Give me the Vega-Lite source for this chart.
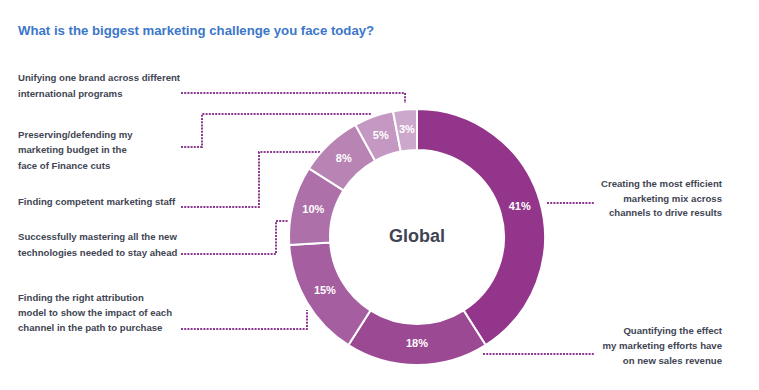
{
  "$schema": "https://vega.github.io/schema/vega-lite/v6.json",
  "width": 759,
  "height": 390,
  "padding": 0,
  "autosize": {"type": "none"},
  "background": "white",
  "config": {"view": {"stroke": null}, "text": {"font": "Liberation Sans"}},
  "datasets": {
    "slices": [
      {"category": "Creating the most efficient marketing mix across channels to drive results", "value": 41, "order": 1, "label": "41%"},
      {"category": "Quantifying the effect my marketing efforts have on new sales revenue", "value": 18, "order": 2, "label": "18%"},
      {"category": "Finding the right attribution model to show the impact of each channel in the path to purchase", "value": 15, "order": 3, "label": "15%"},
      {"category": "Successfully mastering all the new technologies needed to stay ahead", "value": 10, "order": 4, "label": "10%"},
      {"category": "Finding competent marketing staff", "value": 8, "order": 5, "label": "8%"},
      {"category": "Preserving/defending my marketing budget in the face of Finance cuts", "value": 5, "order": 6, "label": "5%"},
      {"category": "Unifying one brand across different international programs", "value": 3, "order": 7, "label": "3%"}
    ],
    "labels": [
      {"text": "Unifying one brand across different", "x": 18, "y": 78, "side": "left"},
      {"text": "international programs", "x": 18, "y": 94, "side": "left"},
      {"text": "Preserving/defending my", "x": 18, "y": 135, "side": "left"},
      {"text": "marketing budget in the", "x": 18, "y": 150, "side": "left"},
      {"text": "face of Finance cuts", "x": 18, "y": 166, "side": "left"},
      {"text": "Finding competent marketing staff", "x": 18, "y": 202, "side": "left"},
      {"text": "Successfully mastering all the new", "x": 18, "y": 237, "side": "left"},
      {"text": "technologies needed to stay ahead", "x": 18, "y": 253, "side": "left"},
      {"text": "Finding the right attribution", "x": 18, "y": 298, "side": "left"},
      {"text": "model to show the impact of each", "x": 18, "y": 313, "side": "left"},
      {"text": "channel in the path to purchase", "x": 18, "y": 328, "side": "left"},
      {"text": "Creating the most efficient", "x": 722, "y": 184, "side": "right"},
      {"text": "marketing mix across", "x": 722, "y": 199, "side": "right"},
      {"text": "channels to drive results", "x": 722, "y": 213, "side": "right"},
      {"text": "Quantifying the effect", "x": 722, "y": 331, "side": "right"},
      {"text": "my marketing efforts have", "x": 722, "y": 346, "side": "right"},
      {"text": "on new sales revenue", "x": 722, "y": 361, "side": "right"}
    ],
    "leaders": [
      {"id": 1, "seq": 1, "x": 181, "y": 93}, {"id": 1, "seq": 2, "x": 405, "y": 93}, {"id": 1, "seq": 3, "x": 405, "y": 103},
      {"id": 2, "seq": 1, "x": 181, "y": 147}, {"id": 2, "seq": 2, "x": 202, "y": 147}, {"id": 2, "seq": 3, "x": 202, "y": 114}, {"id": 2, "seq": 4, "x": 372, "y": 114},
      {"id": 3, "seq": 1, "x": 181, "y": 207}, {"id": 3, "seq": 2, "x": 259, "y": 207}, {"id": 3, "seq": 3, "x": 259, "y": 152}, {"id": 3, "seq": 4, "x": 320, "y": 152},
      {"id": 4, "seq": 1, "x": 181, "y": 254}, {"id": 4, "seq": 2, "x": 276, "y": 254}, {"id": 4, "seq": 3, "x": 276, "y": 221}, {"id": 4, "seq": 4, "x": 288, "y": 221},
      {"id": 5, "seq": 1, "x": 181, "y": 329}, {"id": 5, "seq": 2, "x": 307, "y": 329}, {"id": 5, "seq": 3, "x": 307, "y": 310},
      {"id": 6, "seq": 1, "x": 547, "y": 203}, {"id": 6, "seq": 2, "x": 595, "y": 203},
      {"id": 7, "seq": 1, "x": 483, "y": 354}, {"id": 7, "seq": 2, "x": 595, "y": 354}
    ]
  },
  "layer": [
    {
      "data": {"name": "leaders"},
      "mark": {"type": "line", "color": "#8B3A8E", "strokeWidth": 2, "strokeDash": [2, 1.2]},
      "encoding": {
        "x": {"field": "x", "type": "quantitative", "scale": {"domain": [0, 759], "nice": false, "zero": false}, "axis": null},
        "y": {"field": "y", "type": "quantitative", "scale": {"domain": [0, 390], "nice": false, "zero": false, "reverse": true}, "axis": null},
        "detail": {"field": "id", "type": "nominal"},
        "order": {"field": "seq", "type": "quantitative"}
      }
    },
    {
      "data": {"name": "slices"},
      "mark": {"type": "arc", "outerRadius": 128, "innerRadius": 87, "stroke": "white", "strokeWidth": 2},
      "encoding": {
        "theta": {"field": "value", "type": "quantitative", "stack": true},
        "order": {"field": "order", "type": "quantitative"},
        "color": {
          "field": "category", "type": "nominal", "legend": null,
          "scale": {
            "domain": [
              "Creating the most efficient marketing mix across channels to drive results",
              "Quantifying the effect my marketing efforts have on new sales revenue",
              "Finding the right attribution model to show the impact of each channel in the path to purchase",
              "Successfully mastering all the new technologies needed to stay ahead",
              "Finding competent marketing staff",
              "Preserving/defending my marketing budget in the face of Finance cuts",
              "Unifying one brand across different international programs"
            ],
            "range": ["#93358B", "#9B4993", "#A55E9F", "#AE70A9", "#B884B3", "#C498C2", "#CDA8CD"]
          }
        },
        "x": {"datum": 417, "type": "quantitative"},
        "y": {"datum": 237, "type": "quantitative"}
      }
    },
    {
      "data": {"name": "slices"},
      "mark": {"type": "text", "radius": 107, "color": "white", "fontWeight": "bold", "fontSize": 11, "align": "center", "baseline": "middle"},
      "encoding": {
        "theta": {"field": "value", "type": "quantitative", "stack": true},
        "order": {"field": "order", "type": "quantitative"},
        "text": {"field": "label", "type": "nominal"},
        "x": {"datum": 417, "type": "quantitative"},
        "y": {"datum": 237, "type": "quantitative"}
      }
    },
    {
      "data": {"values": [{"t": "Global"}]},
      "mark": {"type": "text", "color": "#3F4553", "fontWeight": "bold", "fontSize": 18, "align": "center", "baseline": "middle"},
      "encoding": {
        "text": {"field": "t", "type": "nominal"},
        "x": {"datum": 417, "type": "quantitative"},
        "y": {"datum": 237, "type": "quantitative"}
      }
    },
    {
      "data": {"values": [{"t": "What is the biggest marketing challenge you face today?"}]},
      "mark": {"type": "text", "color": "#3C77C9", "fontWeight": "bold", "fontSize": 13.2, "align": "left", "baseline": "middle"},
      "encoding": {
        "text": {"field": "t", "type": "nominal"},
        "x": {"datum": 18, "type": "quantitative"},
        "y": {"datum": 31, "type": "quantitative"}
      }
    },
    {
      "data": {"name": "labels"},
      "transform": [{"filter": "datum.side === 'left'"}],
      "mark": {"type": "text", "color": "#3F4553", "fontWeight": "bold", "fontSize": 9.6, "align": "left", "baseline": "middle"},
      "encoding": {
        "text": {"field": "text", "type": "nominal"},
        "x": {"field": "x", "type": "quantitative"},
        "y": {"field": "y", "type": "quantitative"}
      }
    },
    {
      "data": {"name": "labels"},
      "transform": [{"filter": "datum.side === 'right'"}],
      "mark": {"type": "text", "color": "#3F4553", "fontWeight": "bold", "fontSize": 9.6, "align": "right", "baseline": "middle"},
      "encoding": {
        "text": {"field": "text", "type": "nominal"},
        "x": {"field": "x", "type": "quantitative"},
        "y": {"field": "y", "type": "quantitative"}
      }
    }
  ]
}
